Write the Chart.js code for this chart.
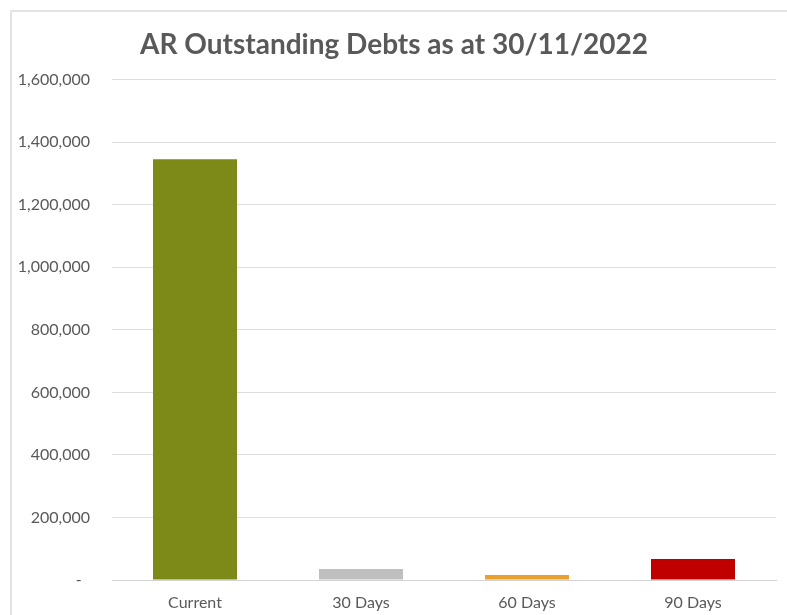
<!DOCTYPE html>
<html>
<head>
<meta charset="utf-8">
<title>AR Outstanding Debts</title>
<script src="https://cdn.jsdelivr.net/npm/chart.js@4/dist/chart.umd.min.js"></script>
<style>
    html, body { margin: 0; padding: 0; background: #fff; }
    #wrap { position: relative; width: 787px; height: 615px; overflow: hidden; }
    #frame {
        position: absolute; left: 10px; top: 10px; width: 790px; height: 640px;
        border: 2px solid #e3e3e3; box-sizing: border-box;
    }
    #debtChart { position: absolute; left: 0; top: 0; }
</style>
</head>
<body>
<div id="wrap">
    <div id="frame"></div>
    <canvas id="debtChart" width="787" height="615"></canvas>
</div>
<script>
var ageBands = ['Current', '30 Days', '60 Days', '90 Days'];
var amounts = [1345000, 35000, 16000, 67000];
var bandColours = ['#7d8a17', '#bfbfbf', '#eaa02c', '#c00000'];
var yMax = 1600000;
var yStep = 200000;

window.onload = function () {
    var textGrey = '#595959';
    var ctx = document.getElementById('debtChart').getContext('2d');

    // accounting style: zero shows as a dash
    function formatAmount(v) {
        if (v === 0) {
            return '-  ';
        }
        return v.toLocaleString('en-US');
    }

    var chart = new Chart(ctx, {
        type: 'bar',
        data: {
            labels: ageBands,
            datasets: [{
                data: amounts,
                backgroundColor: bandColours,
                borderWidth: 0,
                barPercentage: 0.506,
                categoryPercentage: 1
            }]
        },
        options: {
            responsive: false,
            animation: false,
            layout: {
                padding: { left: 12, right: 11, top: 12, bottom: 0 }
            },
            plugins: {
                legend: { display: false },
                tooltip: { enabled: false },
                title: {
                    display: true,
                    text: 'AR Outstanding Debts as at 30/11/2022',
                    color: textGrey,
                    font: { family: 'Lato', size: 28, weight: 'bold' },
                    padding: { top: 16, bottom: 18 }
                }
            },
            scales: {
                x: {
                    afterFit: function (scale) {
                        scale.height = 35;
                    },
                    grid: { display: false, drawTicks: false },
                    border: { display: true, color: '#d4d4d4', width: 1 },
                    ticks: {
                        color: textGrey,
                        font: { family: 'Lato', size: 16 },
                        padding: 13
                    }
                },
                y: {
                    min: 0,
                    max: yMax,
                    afterFit: function (scale) {
                        scale.width = 100;
                    },
                    grid: { color: '#dedede', lineWidth: 1, drawTicks: false },
                    border: { display: false },
                    ticks: {
                        stepSize: yStep,
                        color: textGrey,
                        font: { family: 'Lato', size: 16 },
                        padding: 22,
                        callback: function (value) {
                            return formatAmount(value);
                        }
                    }
                }
            }
        }
    });
};
</script>
</body>
</html>
